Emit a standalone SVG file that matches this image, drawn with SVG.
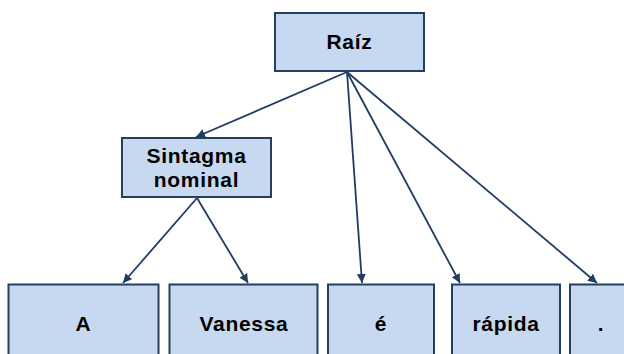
<svg xmlns="http://www.w3.org/2000/svg" width="624" height="354" viewBox="0 0 624 354">
  <style>
    .box { fill: #c6d9f0; stroke: #243f60; stroke-width: 2; }
    .lbl { font-family: "Liberation Sans", Arial, sans-serif; font-weight: bold; font-size: 21px; letter-spacing: 0.7px; fill: #000; text-anchor: middle; }
    .edge { stroke: #1f3d63; stroke-width: 1.8; fill: none; marker-end: url(#arrow); }
  </style>
  <defs>
    <marker id="arrow" viewBox="0 0 10 10" refX="10" refY="5" markerWidth="9" markerHeight="9" markerUnits="userSpaceOnUse" orient="auto">
      <path d="M0,0 L10,5 L0,10 z" fill="#1f3d63"/>
    </marker>
  </defs>
  <rect width="624" height="354" fill="#ffffff"/>

  <g id="connectors">
    <line class="edge" x1="347" y1="72" x2="196" y2="137"/>
    <line class="edge" x1="347" y1="72" x2="362" y2="283"/>
    <line class="edge" x1="347" y1="72" x2="460" y2="283"/>
    <line class="edge" x1="347" y1="72" x2="597" y2="283"/>
    <line class="edge" x1="197" y1="198" x2="123" y2="283"/>
    <line class="edge" x1="197" y1="198" x2="248" y2="283"/>
  </g>

  <g id="raiz">
    <rect class="box" x="275" y="13" width="149" height="58"/>
    <text class="lbl" x="349.5" y="49">Raíz</text>
  </g>
  <g id="sintagma-nominal">
    <rect class="box" x="122" y="138" width="149" height="59"/>
    <text class="lbl" x="196.5" y="163">Sintagma</text>
    <text class="lbl" x="196.5" y="187">nominal</text>
  </g>
  <g id="a">
    <rect class="box" x="8.5" y="284.5" width="150" height="80"/>
    <text class="lbl" x="83.5" y="331">A</text>
  </g>
  <g id="vanessa">
    <rect class="box" x="169.5" y="284.5" width="148" height="80"/>
    <text class="lbl" x="244" y="331">Vanessa</text>
  </g>
  <g id="e">
    <rect class="box" x="328" y="284.5" width="106" height="80"/>
    <text class="lbl" x="381" y="331">é</text>
  </g>
  <g id="rapida">
    <rect class="box" x="452" y="284.5" width="108" height="80"/>
    <text class="lbl" x="506" y="331">rápida</text>
  </g>
  <g id="ponto">
    <rect class="box" x="570" y="284.5" width="80" height="80"/>
    <text class="lbl" x="601" y="331">.</text>
  </g>
</svg>
